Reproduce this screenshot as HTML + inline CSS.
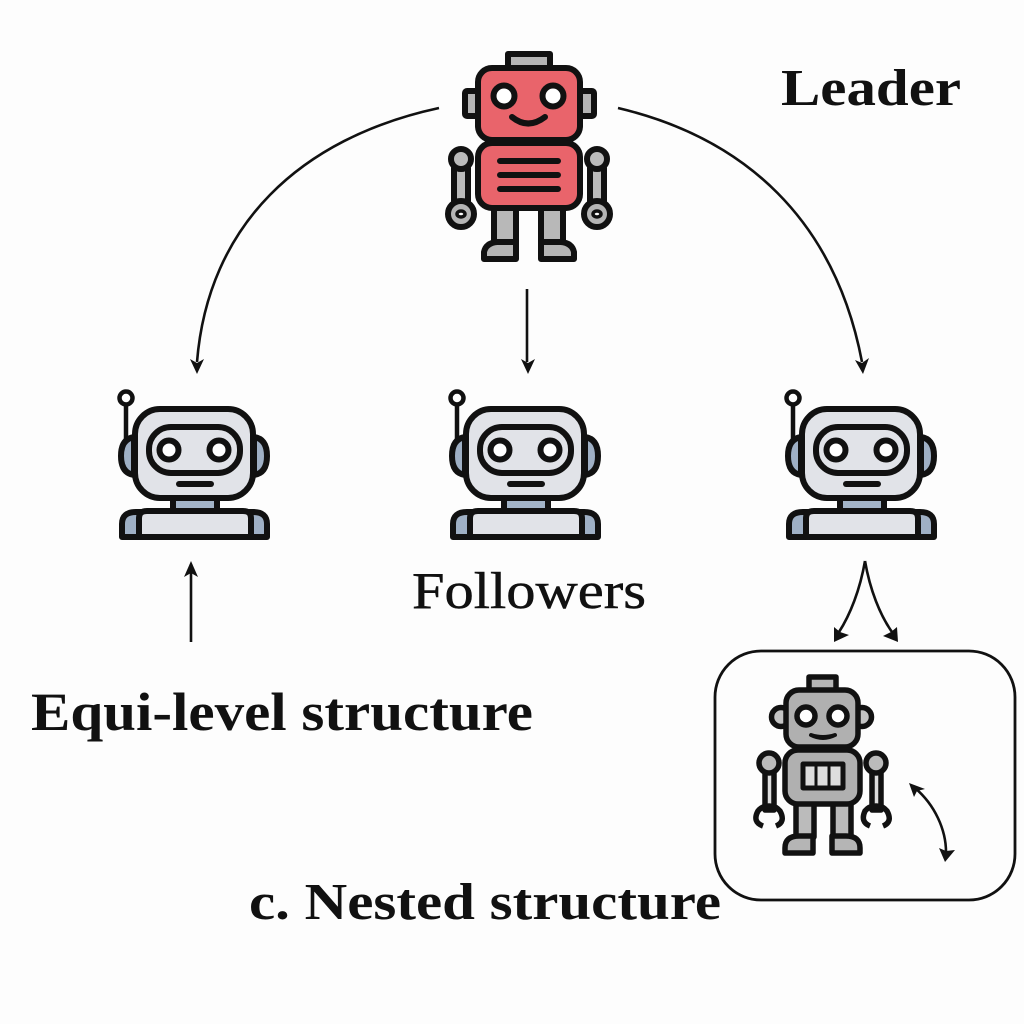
<!DOCTYPE html>
<html><head><meta charset="utf-8"><style>
html,body{margin:0;padding:0;background:#fdfdfd}
svg{display:block}
text{font-family:"Liberation Serif",serif;fill:#111}
</style></head><body>
<svg width="1024" height="1024" viewBox="0 0 1024 1024" xmlns="http://www.w3.org/2000/svg">
<defs>
<g id="f" stroke="#111" stroke-width="6" stroke-linejoin="round">
<line x1="126" y1="404" x2="126" y2="440" stroke-width="4.5"/>
<circle cx="126" cy="398" r="6.5" fill="#fff" stroke-width="4.5"/>
<path d="M134 437 Q121 439 121 456 Q121 473 134 475Z" fill="#9fb0c5"/>
<path d="M254 437 Q267 439 267 456 Q267 473 254 475Z" fill="#9fb0c5"/>
<rect x="173" y="497" width="44" height="15" fill="#a3b4c8"/>
<path d="M122 537 V524 Q122 512 136 512 H253 Q267 512 267 524 V537Z" fill="#9fb0c5"/>
<path d="M139 537 V518 Q139 511 147 511 H243 Q251 511 251 518 V537Z" fill="#e1e3e8"/>
<rect x="135" y="409" width="118" height="89" rx="25" fill="#e1e3e8"/>
<rect x="149" y="427" width="91" height="46" rx="22" fill="#e1e3e8"/>
<circle cx="169" cy="450" r="9.5" fill="#fff"/>
<circle cx="219" cy="450" r="9.5" fill="#fff"/>
<line x1="179" y1="484" x2="211" y2="484" stroke-linecap="round"/>
</g>
</defs>
<rect width="1024" height="1024" fill="#fdfdfd"/>

<!-- Leader robot -->
<g stroke="#111" stroke-width="6" stroke-linejoin="round">
<rect x="508" y="54" width="42" height="15" fill="#b5b5b5"/>
<rect x="465" y="91" width="14" height="25" rx="2" fill="#b5b5b5"/>
<rect x="580" y="91" width="14" height="25" rx="2" fill="#b5b5b5"/>
<rect x="454" y="168" width="14" height="40" fill="#bbb"/>
<rect x="590" y="168" width="14" height="40" fill="#bbb"/>
<circle cx="461" cy="159" r="10" fill="#bbb"/>
<circle cx="597" cy="159" r="10" fill="#bbb"/>
<circle cx="461" cy="214" r="13" fill="#b5b5b5"/>
<circle cx="597" cy="214" r="13" fill="#b5b5b5"/>
<ellipse cx="461" cy="214" rx="4" ry="3" fill="#fff" stroke-width="3.5"/>
<ellipse cx="597" cy="214" rx="4" ry="3" fill="#fff" stroke-width="3.5"/>
<rect x="494" y="206" width="22" height="40" fill="#b8b8b8"/>
<rect x="541" y="206" width="22" height="40" fill="#b8b8b8"/>
<path d="M484 259 V252 Q486 243 497 242 H516 V259Z" fill="#b5b5b5"/>
<path d="M541 259 V242 H561 Q572 243 574 252 V259Z" fill="#b5b5b5"/>
<rect x="478" y="68" width="102" height="72" rx="14" fill="#e9646b"/>
<rect x="478" y="143" width="102" height="65" rx="14" fill="#e9646b"/>
<circle cx="504" cy="96" r="10.5" fill="#fff"/>
<circle cx="553" cy="96" r="10.5" fill="#fff"/>
<path d="M512 117 Q528 130 545 117" fill="none" stroke-linecap="round"/>
<path d="M500 161 H558 M500 175 H558 M500 189 H558" fill="none" stroke-linecap="round"/>
</g>

<!-- Followers -->
<use href="#f"/>
<use href="#f" x="331"/>
<use href="#f" x="667"/>

<!-- Arrows -->
<g fill="none" stroke="#111" stroke-width="2.6">
<path d="M439 108 C300 138 208 225 197 362"/>
<path d="M618 108 C745 138 835 220 862 362"/>
<path d="M527 289 V362"/>
<path d="M191 564 V642"/>
<path d="M865 561 C860 590 850 615 839 632"/>
<path d="M865 561 C870 590 880 615 892 632"/>
<path d="M915 788 C935 805 946 830 946 852"/>
</g>
<g fill="#111">
<path d="M197 374 L190 359 L197 363 L204 359Z"/>
<path d="M863 374 L855 360 L862 363 L869 358Z"/>
<path d="M528 374 L521 359 L528 363 L535 359Z"/>
<path d="M191 561 L184 577 L191 573 L198 577Z"/>
<path d="M834 642 L834 627 L840 632 L849 635Z"/>
<path d="M898 642 L883 636 L891 632 L897 627Z"/>
<path d="M909 783 L925 789 L917 791 L914 797Z"/>
<path d="M945 862 L939 848 L946 851 L955 850Z"/>
</g>

<!-- Nested box -->
<rect x="715" y="651" width="300" height="249" rx="46" fill="none" stroke="#111" stroke-width="2.8"/>

<!-- Nested robot -->
<g stroke="#111" stroke-width="5.5" stroke-linejoin="round">
<rect x="809" y="677" width="27" height="14" fill="#b5b5b5"/>
<circle cx="781" cy="717" r="9.5" fill="#c4c4c4"/>
<circle cx="862" cy="717" r="9.5" fill="#c4c4c4"/>
<rect x="786" y="690" width="72" height="57" rx="13" fill="#b0b0b0"/>
<circle cx="806" cy="716" r="9" fill="#fff"/>
<circle cx="838" cy="716" r="9" fill="#fff"/>
<path d="M811 735 Q823 739 835 735 Q823 741 811 735Z" fill="#333" stroke-width="4"/>
<rect x="765" y="770" width="9" height="40" fill="#ddd"/>
<rect x="872" y="770" width="9" height="40" fill="#ddd"/>
<circle cx="769" cy="763" r="10" fill="#bbb"/>
<circle cx="876" cy="763" r="10" fill="#bbb"/>
<path d="M763 826 Q752 822 758 811 Q762 806 769 806 Q776 806 780 811 Q786 822 776 826" fill="none"/>
<path d="M870 826 Q860 822 865 811 Q869 806 876 806 Q883 806 887 811 Q893 822 883 826" fill="none"/>
<rect x="796" y="803" width="18" height="34" fill="#bbb"/>
<rect x="833" y="803" width="18" height="34" fill="#bbb"/>
<path d="M785 853 V848 Q785 836 799 836 H813 V853Z" fill="#b5b5b5"/>
<path d="M832 853 V836 H846 Q860 836 860 848 V853Z" fill="#b5b5b5"/>
<rect x="785" y="750" width="75" height="54" rx="13" fill="#b0b0b0"/>
<rect x="803" y="764" width="40" height="24" fill="#ddd" stroke-width="5"/>
<path d="M816 764 V788 M829 764 V788" stroke-width="3"/>
</g>

<!-- Labels -->
<text x="781" y="105" font-size="52" font-weight="bold" textLength="180" lengthAdjust="spacingAndGlyphs">Leader</text>
<text x="412" y="608" font-size="52" stroke="#111" stroke-width="0.5" textLength="234" lengthAdjust="spacingAndGlyphs">Followers</text>
<text x="31" y="730" font-size="54" font-weight="bold" textLength="502" lengthAdjust="spacingAndGlyphs">Equi-level structure</text>
<text x="249" y="919" font-size="52" font-weight="bold" textLength="472" lengthAdjust="spacingAndGlyphs">c. Nested structure</text>
</svg>
</body></html>
